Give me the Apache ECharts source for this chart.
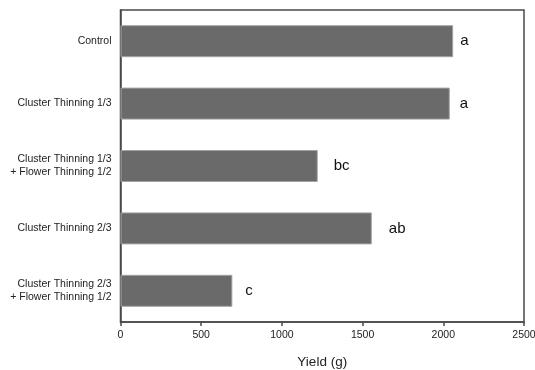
<!DOCTYPE html>
<html>
<head>
<meta charset="utf-8">
<script src="https://cdn.jsdelivr.net/npm/echarts@6/dist/echarts.min.js"></script>
<style>html,body{margin:0;padding:0;background:#fff}#c{width:535px;height:370px}</style>
</head>
<body>
<div id="c"></div>
<script>
var categories = ['Control', 'Cluster Thinning 1/3', 'Cluster Thinning 1/3\n+ Flower Thinning 1/2', 'Cluster Thinning 2/3', 'Cluster Thinning 2/3\n+ Flower Thinning 1/2'];
var yieldValues = [2061, 2040, 1222, 1557, 693];
var letters = ['a', 'a', 'bc', 'ab', 'c'];
var letterGaps = [7, 10, 16, 17, 13];
var xTicks = [0, 500, 1000, 1500, 2000, 2500];

var chart = echarts.init(document.getElementById('c'), null, {renderer: 'canvas'});
var font = 'Liberation Sans, Arial, Helvetica, sans-serif';
chart.setOption({
  animation: false,
  grid: {left: 120.5, right: 11, top: 10, bottom: 48, show: true, borderColor: '#4a4a4a', borderWidth: 1.5, containLabel: false, outerBoundsMode: 'none'},
  xAxis: {
    type: 'value', min: xTicks[0], max: xTicks[xTicks.length - 1], interval: 500,
    name: 'Yield (g)', nameLocation: 'middle', nameGap: 33,
    nameTextStyle: {fontFamily: font, fontSize: 13.5, color: '#222'},
    axisLine: {show: true, lineStyle: {color: '#4a4a4a', width: 1.5}},
    axisTick: {show: true, length: 4, lineStyle: {color: '#4a4a4a', width: 1.5}},
    axisLabel: {fontFamily: font, fontSize: 10.5, color: '#222', margin: 8, formatter: function (v) { return String(v); }},
    splitLine: {show: false}
  },
  yAxis: {
    type: 'category', data: categories, inverse: true,
    axisLine: {show: true, lineStyle: {color: '#4a4a4a', width: 1.5}},
    axisTick: {show: false},
    axisLabel: {fontFamily: font, fontSize: 10.5, color: '#222', margin: 9, lineHeight: 13, align: 'right'}
  },
  series: [{
    type: 'bar', barWidth: 32,
    data: yieldValues.map(function (v, i) {
      return {value: v, label: {distance: letterGaps[i]}};
    }),
    itemStyle: {color: '#6a6a6a', borderColor: '#a3a3a3', borderWidth: 1},
    label: {
      show: true, position: 'right', fontFamily: font, fontSize: 15, color: '#111',
      formatter: function (p) { return letters[p.dataIndex]; }
    }
  }]
});
</script>
</body>
</html>
